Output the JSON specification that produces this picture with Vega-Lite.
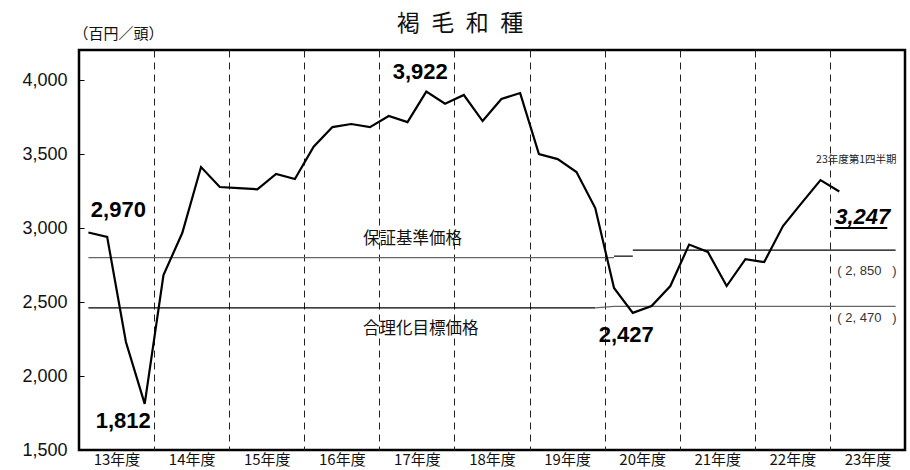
{
  "$schema": "https://vega.github.io/schema/vega-lite/v6.json",
  "width": 826,
  "height": 400,
  "autosize": {"type": "none"},
  "padding": {"left": 79, "top": 50, "right": 5, "bottom": 20},
  "background": "white",
  "config": {"view": {"stroke": "black", "strokeWidth": 2.5}, "font": "Noto Sans CJK JP"},
  "title": {"text": "褐\u2002毛\u2002和\u2002種", "fontSize": 23, "font": "Noto Sans CJK JP", "fontWeight": "normal", "anchor": "middle", "dx": -32, "dy": 50, "offset": 17, "baseline": "bottom", "frame": "group", "color": "#111"},
  "datasets": {
    "price": [
      {"fy": "13年度", "qtr": 1, "q": 0, "price": 2970},
      {"fy": "13年度", "qtr": 2, "q": 1, "price": 2940},
      {"fy": "13年度", "qtr": 3, "q": 2, "price": 2230},
      {"fy": "13年度", "qtr": 4, "q": 3, "price": 1812},
      {"fy": "14年度", "qtr": 1, "q": 4, "price": 2682},
      {"fy": "14年度", "qtr": 2, "q": 5, "price": 2966},
      {"fy": "14年度", "qtr": 3, "q": 6, "price": 3412},
      {"fy": "14年度", "qtr": 4, "q": 7, "price": 3277},
      {"fy": "15年度", "qtr": 1, "q": 8, "price": 3270},
      {"fy": "15年度", "qtr": 2, "q": 9, "price": 3262},
      {"fy": "15年度", "qtr": 3, "q": 10, "price": 3365},
      {"fy": "15年度", "qtr": 4, "q": 11, "price": 3331},
      {"fy": "16年度", "qtr": 1, "q": 12, "price": 3549},
      {"fy": "16年度", "qtr": 2, "q": 13, "price": 3682},
      {"fy": "16年度", "qtr": 3, "q": 14, "price": 3703},
      {"fy": "16年度", "qtr": 4, "q": 15, "price": 3682},
      {"fy": "17年度", "qtr": 1, "q": 16, "price": 3757},
      {"fy": "17年度", "qtr": 2, "q": 17, "price": 3716},
      {"fy": "17年度", "qtr": 3, "q": 18, "price": 3922},
      {"fy": "17年度", "qtr": 4, "q": 19, "price": 3840},
      {"fy": "18年度", "qtr": 1, "q": 20, "price": 3899},
      {"fy": "18年度", "qtr": 2, "q": 21, "price": 3723},
      {"fy": "18年度", "qtr": 3, "q": 22, "price": 3872},
      {"fy": "18年度", "qtr": 4, "q": 23, "price": 3912},
      {"fy": "19年度", "qtr": 1, "q": 24, "price": 3500},
      {"fy": "19年度", "qtr": 2, "q": 25, "price": 3466},
      {"fy": "19年度", "qtr": 3, "q": 26, "price": 3378},
      {"fy": "19年度", "qtr": 4, "q": 27, "price": 3135},
      {"fy": "20年度", "qtr": 1, "q": 28, "price": 2595},
      {"fy": "20年度", "qtr": 2, "q": 29, "price": 2427},
      {"fy": "20年度", "qtr": 3, "q": 30, "price": 2473},
      {"fy": "20年度", "qtr": 4, "q": 31, "price": 2608},
      {"fy": "21年度", "qtr": 1, "q": 32, "price": 2888},
      {"fy": "21年度", "qtr": 2, "q": 33, "price": 2838},
      {"fy": "21年度", "qtr": 3, "q": 34, "price": 2608},
      {"fy": "21年度", "qtr": 4, "q": 35, "price": 2790},
      {"fy": "22年度", "qtr": 1, "q": 36, "price": 2770},
      {"fy": "22年度", "qtr": 2, "q": 37, "price": 3013},
      {"fy": "22年度", "qtr": 3, "q": 38, "price": 3170},
      {"fy": "22年度", "qtr": 4, "q": 39, "price": 3324},
      {"fy": "23年度", "qtr": 1, "q": 40, "price": 3247, "note": "23年度第1四半期"}
    ],
    "ref": [
      {"seg": "保証基準価格1", "q": 0, "price": 2800},
      {"seg": "保証基準価格1", "q": 28, "price": 2800},
      {"seg": "保証基準価格2", "q": 28, "price": 2810},
      {"seg": "保証基準価格2", "q": 29, "price": 2810},
      {"seg": "保証基準価格3", "q": 29, "price": 2850},
      {"seg": "保証基準価格3", "q": 43, "price": 2850},
      {"seg": "合理化目標価格1", "q": 0, "price": 2460},
      {"seg": "合理化目標価格1", "q": 27, "price": 2460},
      {"seg": "合理化目標価格2", "q": 27, "price": 2460},
      {"seg": "合理化目標価格2", "q": 28, "price": 2470},
      {"seg": "合理化目標価格2", "q": 43, "price": 2470}
    ],
    "notes": [
      {"id": "g", "label": "保証基準価格", "q": 15, "price": 2800},
      {"id": "r", "label": "合理化目標価格", "q": 15, "price": 2460},
      {"id": "g2", "label": "(\u00a02,\u00a0850\u00a0\u00a0\u00a0)", "q": 40, "price": 2850},
      {"id": "r2", "label": "(\u00a02,\u00a0470\u00a0\u00a0\u00a0)", "q": 40, "price": 2470}
    ]
  },
  "encoding": {
    "x": {
      "field": "q", "type": "quantitative",
      "scale": {"domain": [-0.5, 43.5], "nice": false, "zero": false},
      "axis": {
        "values": [1.5, 3.5, 5.5, 7.5, 9.5, 11.5, 13.5, 15.5, 17.5, 19.5, 21.5, 23.5, 25.5, 27.5, 29.5, 31.5, 33.5, 35.5, 37.5, 39.5, 41.5],
        "labelExpr": "datum.value % 4 == 1.5 ? (13 + floor(datum.value / 4)) + '年度' : ''",
        "domain": false, "ticks": false, "grid": true,
        "gridDash": [7, 5], "gridColor": "#222", "gridWidth": 1,
        "gridOpacity": {"condition": {"test": "datum.value % 4 == 3.5", "value": 1}, "value": 0},
        "labelFont": "Noto Sans CJK JP", "labelFontSize": 15, "labelColor": "#111",
        "labelPadding": 2, "labelFlush": false, "labelOverlap": false, "title": null
      }
    },
    "y": {
      "field": "price", "type": "quantitative",
      "scale": {"domain": [1500, 4203], "nice": false, "zero": false},
      "axis": {
        "values": [1500, 2000, 2500, 3000, 3500, 4000], "format": ",d",
        "domain": false, "ticks": true, "tickSize": -5, "tickColor": "#000", "tickWidth": 1,
        "grid": false, "labelFont": "Liberation Sans", "labelFontSize": 18, "labelColor": "#111",
        "labelPadding": 17, "labelFlush": false,
        "title": "（百円／頭）", "titleAngle": 0, "titleAlign": "left", "titleBaseline": "middle",
        "titleX": -6, "titleY": -17, "titleFont": "Noto Sans CJK JP", "titleFontSize": 15,
        "titleFontWeight": "normal", "titleColor": "#111"
      }
    }
  },
  "layer": [
    {
      "data": {"name": "ref"},
      "mark": {"type": "line", "strokeWidth": 1.2},
      "encoding": {
        "color": {"field": "seg", "type": "nominal", "legend": null,
          "scale": {"domain": ["保証基準価格1", "保証基準価格2", "保証基準価格3", "合理化目標価格1", "合理化目標価格2"], "range": ["#666666", "#000000", "#000000", "#000000", "#666666"]}}
      }
    },
    {
      "data": {"name": "price"},
      "mark": {"type": "line", "color": "black", "strokeWidth": 2.2, "strokeJoin": "miter"}
    },
    {
      "data": {"name": "price"},
      "transform": [{"filter": "datum.q == 0"}],
      "mark": {"type": "text", "font": "Liberation Sans", "fontWeight": "bold", "fontSize": 22, "dx": 30, "dy": -22, "align": "center", "baseline": "middle", "color": "black"},
      "encoding": {"text": {"field": "price", "format": ","}}
    },
    {
      "data": {"name": "price"},
      "transform": [{"filter": "datum.q == 18"}],
      "mark": {"type": "text", "font": "Liberation Sans", "fontWeight": "bold", "fontSize": 22, "dx": -6, "dy": -19.5, "align": "center", "baseline": "middle", "color": "black"},
      "encoding": {"text": {"field": "price", "format": ","}}
    },
    {
      "data": {"name": "price"},
      "transform": [{"filter": "datum.q == 3"}],
      "mark": {"type": "text", "font": "Liberation Sans", "fontWeight": "bold", "fontSize": 22, "dx": -21.5, "dy": 17, "align": "center", "baseline": "middle", "color": "black"},
      "encoding": {"text": {"field": "price", "format": ","}}
    },
    {
      "data": {"name": "price"},
      "transform": [{"filter": "datum.q == 29"}],
      "mark": {"type": "text", "font": "Liberation Sans", "fontWeight": "bold", "fontSize": 22, "dx": -6.5, "dy": 22, "align": "center", "baseline": "middle", "color": "black"},
      "encoding": {"text": {"field": "price", "format": ","}}
    },
    {
      "data": {"name": "price"},
      "transform": [{"filter": "datum.q == 40"}],
      "mark": {"type": "text", "font": "Liberation Sans", "fontWeight": "bold", "fontStyle": "italic", "fontSize": 22, "dx": 23.5, "dy": 25.5, "align": "center", "baseline": "middle", "color": "black"},
      "encoding": {"text": {"field": "price", "format": ","}}
    },
    {
      "data": {"name": "price"},
      "transform": [{"filter": "datum.q == 40"}],
      "mark": {"type": "tick", "orient": "horizontal", "size": 53, "thickness": 2, "xOffset": 21.5, "yOffset": 36.6, "color": "black", "opacity": 1}
    },
    {
      "data": {"name": "price"},
      "transform": [{"filter": "datum.q == 40"}],
      "mark": {"type": "text", "font": "Noto Sans CJK JP", "fontSize": 10.5, "dx": 17, "dy": -31, "align": "center", "baseline": "middle", "color": "#222"},
      "encoding": {"text": {"field": "note"}}
    },
    {
      "data": {"name": "notes"},
      "transform": [{"filter": "datum.id == 'g'"}],
      "mark": {"type": "text", "font": "Noto Sans CJK JP", "fontSize": 16.5, "dx": -7, "dy": -18.5, "align": "left", "baseline": "middle", "color": "#111"},
      "encoding": {"text": {"field": "label"}}
    },
    {
      "data": {"name": "notes"},
      "transform": [{"filter": "datum.id == 'r'"}],
      "mark": {"type": "text", "font": "Noto Sans CJK JP", "fontSize": 16.5, "dx": -7, "dy": 21.5, "align": "left", "baseline": "middle", "color": "#111"},
      "encoding": {"text": {"field": "label"}}
    },
    {
      "data": {"name": "notes"},
      "transform": [{"filter": "datum.id == 'g2'"}],
      "mark": {"type": "text", "font": "Liberation Sans", "fontSize": 13, "dx": -2, "dy": 21, "align": "left", "baseline": "middle", "color": "#333"},
      "encoding": {"text": {"field": "label"}}
    },
    {
      "data": {"name": "notes"},
      "transform": [{"filter": "datum.id == 'r2'"}],
      "mark": {"type": "text", "font": "Liberation Sans", "fontSize": 13, "dx": -2, "dy": 11.5, "align": "left", "baseline": "middle", "color": "#333"},
      "encoding": {"text": {"field": "label"}}
    }
  ]
}
